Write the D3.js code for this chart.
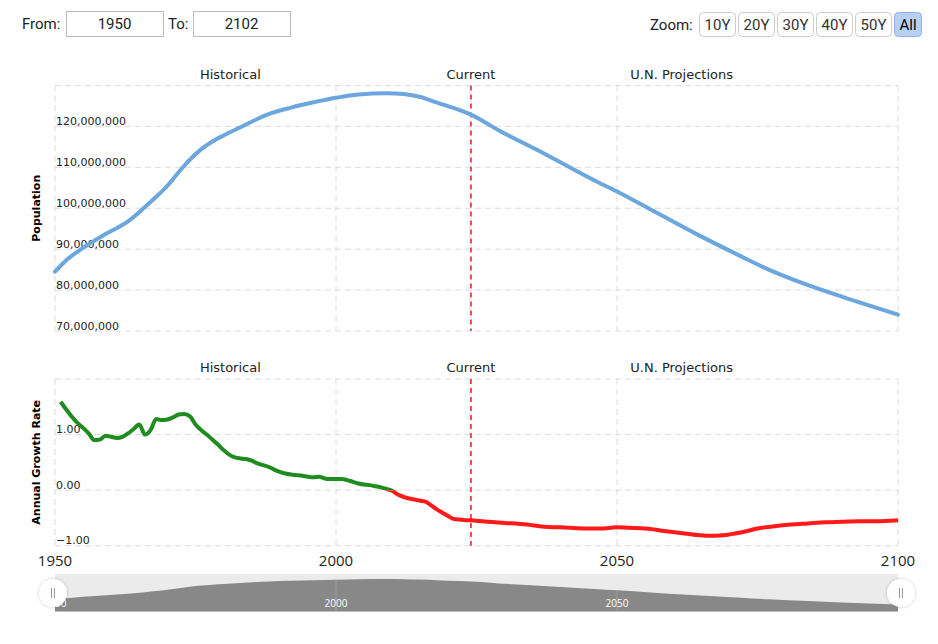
<!DOCTYPE html>
<html><head><meta charset="utf-8">
<script src="https://cdn.jsdelivr.net/npm/d3@7"></script>
<style>body{margin:0;background:#fff;}svg{display:block;}</style>
</head><body><svg id="c" width="938" height="644"></svg>
<script>
// ---- data ----
const popYears = [1950,1952,1955,1959,1963,1966,1968,1970,1972,1974,1976,1978,1980,1983,1988,1992,1996,2000,2004,2009,2012,2015,2018,2022,2024,2029,2037,2046,2050,2056,2064,2072,2077,2084,2090,2100];
const popValues = [84.5,87.3,90.3,93.7,96.8,100.3,102.8,105.5,108.8,111.9,114.4,116.3,117.8,119.8,123.0,124.6,125.9,127.0,127.8,128.1,127.9,127.2,125.8,124.0,122.9,119.0,113.4,106.8,104.1,99.7,93.8,88.3,85.0,81.2,78.4,74.0].map(v=>v*1e6);
const growthYears = [1951,1952,1953,1954,1955,1956,1957,1958,1959,1960,1961,1962,1963,1964,1965,1966,1967,1968,1969,1970,1971,1972,1973,1974,1975,1976,1977,1978,1979,1980,1981,1982,1983,1984,1985,1986,1987,1988,1989,1990,1991,1992,1993,1994,1995,1996,1997,1998,1999,2000,2001,2002,2003,2004,2005,2006,2007,2008,2009,2010,2011,2012,2013,2014,2015,2016,2017,2018,2019,2020,2021,2022,2023,2024,2025,2027,2030,2034,2037,2040,2044,2047,2050,2053,2056,2058,2062,2066,2069,2071,2073,2075,2078,2081,2084,2087,2090,2093,2096,2100];
const growthValues = [1.59,1.45,1.32,1.21,1.12,1.02,0.90,0.91,0.98,0.96,0.94,0.96,1.02,1.10,1.18,1.00,1.08,1.28,1.26,1.27,1.31,1.36,1.37,1.33,1.18,1.08,1.00,0.91,0.82,0.72,0.64,0.59,0.57,0.56,0.53,0.48,0.45,0.42,0.37,0.33,0.30,0.28,0.27,0.26,0.24,0.23,0.24,0.21,0.20,0.20,0.20,0.18,0.15,0.12,0.10,0.09,0.07,0.05,0.02,-0.01,-0.08,-0.12,-0.15,-0.17,-0.19,-0.21,-0.28,-0.35,-0.41,-0.47,-0.52,-0.53,-0.54,-0.54,-0.55,-0.57,-0.59,-0.62,-0.66,-0.67,-0.69,-0.69,-0.67,-0.68,-0.70,-0.73,-0.78,-0.82,-0.81,-0.78,-0.74,-0.69,-0.65,-0.62,-0.60,-0.58,-0.57,-0.56,-0.56,-0.54];
const xTicks = [1950,2000,2050,2100];
const popTicks = [70e6,80e6,90e6,100e6,110e6,120e6,130e6];
const growthTicks = [-1,0,1,2];
const bandLabels = [{label:"Historical",year:1981.2},{label:"Current",year:2024},{label:"U.N. Projections",year:2061.5}];
const currentYear = 2024;
const zoomButtons = ["10Y","20Y","30Y","40Y","50Y","All"];
const fromYear = "1950", toYear = "2102";

// ---- layout ----
const svg = d3.select("#c");
const L = 55, R = 898;
const x = d3.scaleLinear().domain([1950,2100]).range([L,R]);
const yPop = d3.scaleLinear().domain([70e6,130e6]).range([331,85.5]);
const yGr = d3.scaleLinear().domain([-1,2]).range([545.7,379]);
const gridColor = "#dcdcdc";
const tickFont = "DejaVu Sans, Verdana, sans-serif";
const defs = svg.append("defs");

function panel(y, ticks, fmt){
  const g = svg.append("g");
  const [y0,y1] = y.range();
  g.selectAll("line.h").data(ticks).join("line")
    .attr("x1",L).attr("x2",R).attr("y1",d=>y(d)).attr("y2",d=>y(d))
    .attr("stroke",gridColor).attr("stroke-dasharray","6,4");
  g.selectAll("line.v").data(xTicks).join("line")
    .attr("x1",d=>x(d)).attr("x2",d=>x(d)).attr("y1",y1).attr("y2",y0)
    .attr("stroke",gridColor).attr("stroke-dasharray","6,4");
  g.selectAll("text.t").data(ticks.slice(0,-1)).join("text")
    .attr("x",L+1).attr("y",d=>y(d)-1.5)
    .attr("font-family",tickFont).attr("font-size",11).attr("fill","#222")
    .text(fmt);
  g.selectAll("text.b").data(bandLabels).join("text")
    .attr("x",d=>x(d.year)).attr("y",y1-7).attr("text-anchor","middle")
    .attr("font-family",tickFont).attr("font-size",13).attr("fill","#222")
    .text(d=>d.label);
  g.append("line").attr("x1",x(currentYear)).attr("x2",x(currentYear))
    .attr("y1",y1).attr("y2",y0).attr("stroke","#e5484d").attr("stroke-width",2)
    .attr("stroke-dasharray","5,4");
  return g;
}

panel(yPop, popTicks, d=>d3.format(",")(d));
panel(yGr, growthTicks, d=>d3.format(".2f")(d));

// population line
const popData = popYears.map((yr,i)=>({yr, v:popValues[i]}));
svg.append("path").datum(popData)
  .attr("fill","none").attr("stroke","#6ca6de").attr("stroke-width",4)
  .attr("stroke-linejoin","round").attr("stroke-linecap","round")
  .attr("d", d3.line().x(d=>x(d.yr)).y(d=>yPop(d.v)).curve(d3.curveMonotoneX));

// growth line, coloured by sign
const grData = growthYears.map((yr,i)=>({yr, v:growthValues[i]}));
defs.append("clipPath").attr("id","above").append("rect")
  .attr("x",0).attr("y",0).attr("width",938).attr("height",yGr(0));
defs.append("clipPath").attr("id","below").append("rect")
  .attr("x",0).attr("y",yGr(0)).attr("width",938).attr("height",200);
const grLine = d3.line().x(d=>x(d.yr)).y(d=>yGr(d.v)).curve(d3.curveMonotoneX);
svg.append("path").datum(grData).attr("clip-path","url(#above)")
  .attr("fill","none").attr("stroke","#1f8c1f").attr("stroke-width",4)
  .attr("stroke-linejoin","round").attr("d",grLine);
svg.append("path").datum(grData).attr("clip-path","url(#below)")
  .attr("fill","none").attr("stroke","#ff1a1a").attr("stroke-width",4)
  .attr("stroke-linejoin","round").attr("d",grLine);

// axis titles
svg.append("text").attr("transform",`translate(40,${(yPop.range()[0]+yPop.range()[1])/2}) rotate(-90)`)
  .attr("text-anchor","middle").attr("font-family",tickFont).attr("font-weight","bold")
  .attr("font-size",11).attr("fill","#000").text("Population");
svg.append("text").attr("transform",`translate(40,${(yGr.range()[0]+yGr.range()[1])/2}) rotate(-90)`)
  .attr("text-anchor","middle").attr("font-family",tickFont).attr("font-weight","bold")
  .attr("font-size",11).attr("fill","#000").text("Annual Growth Rate");

// x axis labels
svg.selectAll("text.x").data(xTicks).join("text")
  .attr("x",d=>x(d)).attr("y",566).attr("text-anchor","middle")
  .attr("font-family","Open Sans, sans-serif").attr("font-size",15).attr("fill","#222")
  .text(d=>d);

// navigator
const nav = svg.append("g");
const navTop = 574, navBot = 611.5;
const yNav = d3.scaleLinear().domain([59e6,139e6]).range([navBot,navTop]);
const navArea = d3.area().x(d=>x(d.yr)).y0(navBot).y1(d=>yNav(d.v)).curve(d3.curveMonotoneX);
nav.append("rect").attr("x",L).attr("y",navTop).attr("width",R-L).attr("height",navBot-navTop).attr("fill","#ebebeb");
nav.append("path").datum(popData).attr("fill","#888888").attr("d", navArea);
defs.append("clipPath").attr("id","navclip").append("path").datum(popData).attr("d", navArea);
nav.selectAll("line.ng").data(xTicks.slice(1,3)).join("line")
  .attr("clip-path","url(#navclip)")
  .attr("x1",d=>x(d)).attr("x2",d=>x(d)).attr("y1",navTop).attr("y2",navBot)
  .attr("stroke","#9d9d9d").attr("stroke-width",1);
nav.selectAll("text.nl").data(xTicks.slice(0,3)).join("text")
  .attr("x",d=>x(d)).attr("y",607).attr("text-anchor","middle")
  .attr("font-family","Open Sans, sans-serif").attr("font-size",10).attr("fill","#fff")
  .text(d=>d);
defs.append("filter").attr("id","sh").append("feDropShadow")
  .attr("dx",0).attr("dy",0).attr("stdDeviation",1.5).attr("flood-color","#000").attr("flood-opacity",0.25);
const handles = nav.selectAll("g.h").data([1950,2100]).join("g")
  .attr("transform",(d,i)=>`translate(${x(d)+(i? 3:-2)},593)`);
handles.append("circle").attr("r",14).attr("fill","#fff").attr("filter","url(#sh)");
handles.selectAll("line").data([-1.5,1.5]).join("line")
  .attr("x1",d=>d).attr("x2",d=>d).attr("y1",-5).attr("y2",5).attr("stroke","#999").attr("stroke-width",1);

// top controls
const ctl = svg.append("g").attr("font-family","Roboto, Arial, sans-serif").attr("font-size",15).attr("fill","#222");
ctl.append("text").attr("x",22).attr("y",29).text("From:");
ctl.append("text").attr("x",168).attr("y",29).text("To:");
[[66,fromYear],[193,toYear]].forEach(([bx,t])=>{
  ctl.append("rect").attr("x",bx+0.5).attr("y",11.5).attr("width",97).attr("height",25)
    .attr("fill","#fff").attr("stroke","#bbb");
  ctl.append("text").attr("x",bx+48.5).attr("y",29).attr("text-anchor","middle").text(t);
});
ctl.append("text").attr("x",650).attr("y",30).text("Zoom:");
const btnX = [699,738,777,816,855,894];
const btnW = [36,36,36,36,36,27];
zoomButtons.forEach((b,i)=>{
  const sel = b==="All";
  ctl.append("rect").attr("x",btnX[i]+0.5).attr("y",12.5).attr("width",btnW[i]).attr("height",24)
    .attr("rx",4).attr("fill",sel?"#b9d0f5":"#fff").attr("stroke",sel?"#8fb0e6":"#ccc");
  ctl.append("text").attr("x",btnX[i]+0.5+btnW[i]/2).attr("y",30).attr("text-anchor","middle")
    .attr("fill",sel?"#000":"#333").text(b);
});
</script></body></html>
